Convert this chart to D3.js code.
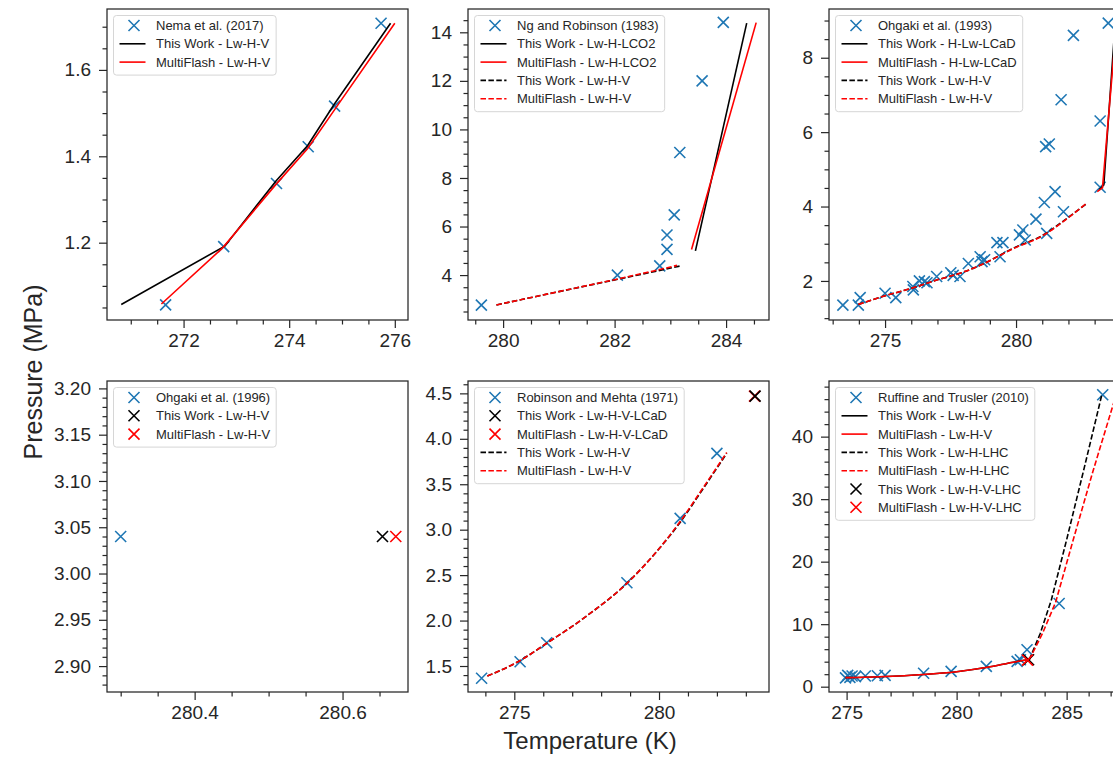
<!DOCTYPE html>
<html>
<head>
<meta charset="utf-8">
<script src="https://cdn.jsdelivr.net/npm/d3@7"></script>
<style>
  body { margin: 0; background: #fff; }
  text { font-family: "Liberation Sans", Arial, sans-serif; fill: #262626; }
</style>
</head>
<body>
<svg id="chart" width="1113" height="757"></svg>
<script>
// ---- data (T in K, P in MPa) ----

// Nema et al. (2017)
const nemaExp = [[271.66, 1.056], [272.76, 1.191], [273.76, 1.337], [274.36, 1.422], [274.86, 1.516], [275.74, 1.708]];
const nemaThisV = [[270.82, 1.057], [272.78, 1.192], [273.75, 1.343], [274.35, 1.425], [274.85, 1.52], [275.92, 1.708]];
const nemaMfV = [[271.58, 1.058], [272.74, 1.188], [273.75, 1.335], [274.35, 1.418], [274.9, 1.515], [276.0, 1.708]];

// Ng and Robinson (1983)
const ngExp = [[279.61, 2.76], [282.05, 4.0], [282.81, 4.38], [282.94, 5.06], [282.94, 5.65], [283.07, 6.48], [283.17, 9.05], [283.57, 12.0], [283.95, 14.41]];
const ngThisLco2 = [[283.45, 5.0], [284.37, 14.38]];
const ngMfLco2 = [[283.38, 5.05], [284.54, 14.4]];
const ngThisV = [[279.88, 2.77], [281.0, 3.32], [282.0, 3.8], [282.7, 4.14], [283.19, 4.38]];
const ngMfV = [[279.88, 2.77], [281.0, 3.32], [282.0, 3.81], [282.7, 4.17], [283.12, 4.4]];

// Ohgaki et al. (1993)
const oh93Exp = [[273.39, 1.35], [273.98, 1.35], [274.05, 1.55], [275.0, 1.67], [275.41, 1.55], [276.06, 1.85], [276.08, 1.76],
  [276.31, 2.0], [276.5, 1.98], [276.6, 1.95], [276.97, 2.12], [277.51, 2.22], [277.6, 2.15], [277.86, 2.12], [278.18, 2.47],
  [278.63, 2.65], [278.7, 2.52], [278.8, 2.57], [279.27, 3.03], [279.5, 3.03], [279.39, 2.65], [280.13, 3.24], [280.26, 3.37],
  [280.35, 3.1], [280.76, 3.66], [281.08, 4.11], [281.17, 3.28], [281.49, 4.4], [281.81, 3.86], [281.13, 5.61], [281.27, 5.68],
  [281.72, 6.87], [282.19, 8.6], [283.21, 6.3], [283.21, 4.52], [283.52, 8.93]];
const oh93ThisLcad = [[283.17, 4.45], [283.35, 4.58], [283.78, 8.9]];
const oh93MfLcad = [[283.1, 4.4], [283.3, 4.5], [283.83, 8.9]];
const oh93ThisV = [[273.98, 1.37], [275.0, 1.6], [276.0, 1.8], [277.0, 2.03], [278.0, 2.24], [278.63, 2.42], [279.9, 2.88], [281.05, 3.24], [281.94, 3.68], [282.7, 4.08]];
const oh93MfV = [[273.98, 1.37], [275.0, 1.6], [276.0, 1.8], [277.0, 2.03], [278.0, 2.24], [278.63, 2.42], [279.9, 2.87], [281.05, 3.23], [281.94, 3.67], [282.68, 4.08]];

// Ohgaki et al. (1996)
const oh96Exp = [[280.30, 3.04]];
const oh96ThisV = [[280.654, 3.04]];
const oh96MfV = [[280.672, 3.04]];

// Robinson and Mehta (1971)
const rmExp = [[273.87, 1.365], [275.2, 1.547], [276.12, 1.756], [278.89, 2.416], [280.73, 3.125], [282.0, 3.84]];
const rmThisLcad = [[283.32, 4.47]];
const rmMfLcad = [[283.30, 4.47]];
const rmThisV = [[274.07, 1.39], [275.2, 1.56], [276.12, 1.75], [277.5, 2.05], [278.89, 2.41], [280.0, 2.79], [280.73, 3.08], [281.5, 3.44], [282.34, 3.84]];
const rmMfV = [[274.07, 1.39], [275.2, 1.56], [276.12, 1.75], [277.5, 2.05], [278.89, 2.41], [280.0, 2.79], [280.73, 3.09], [281.5, 3.45], [282.34, 3.85]];

// Ruffine and Trusler (2010)
const rtExp = [[274.95, 1.4], [275.05, 1.8], [275.15, 1.5], [275.25, 1.7], [275.4, 1.6], [275.85, 1.7], [276.4, 1.75], [276.75, 1.8],
  [278.5, 2.15], [279.75, 2.45], [281.35, 3.25], [282.75, 4.05], [282.9, 4.3], [283.2, 5.9], [284.66, 13.3], [286.64, 46.7]];
const rtThisV = [[274.95, 1.45], [276.5, 1.6], [278.5, 1.95], [280.0, 2.4], [281.4, 3.1], [282.7, 4.0], [283.25, 4.3]];
const rtMfV = [[274.95, 1.45], [276.5, 1.6], [278.5, 1.95], [280.0, 2.4], [281.4, 3.1], [282.7, 4.0], [283.25, 4.3]];
const rtThisLhc = [[283.3, 4.3], [283.8, 8.5], [284.3, 13.8], [285.0, 23.5], [285.8, 35.0], [286.6, 46.7]];
const rtMfLhc = [[283.3, 4.3], [283.9, 8.5], [284.5, 13.5], [285.3, 23.5], [286.2, 34.5], [287.26, 46.8]];
const rtThisPt = [[283.27, 4.3]];
const rtMfPt = [[283.22, 4.25]];

// ---- layout ----
const blue = "#1f77b4", black = "#000000", red = "#ff0000";
const colX = [107, 468, 829], rowY = [9, 381];
const pw = 301, ph = 311;

const panels = [
  { col: 0, row: 0, xDomain: [270.55, 276.25], yDomain: [1.021, 1.741], xMajor: 2, xMinor: 0.5, yMajor: 0.2, yMinor: 0.05, xFmt: "d", yFmt: ".1f",
    series: [
      { data: nemaExp, kind: "x", color: blue, label: "Nema et al. (2017)" },
      { data: nemaThisV, kind: "line", color: black, label: "This Work - Lw-H-V" },
      { data: nemaMfV, kind: "line", color: red, label: "MultiFlash - Lw-H-V" }
    ] },
  { col: 1, row: 0, xDomain: [279.37, 284.77], yDomain: [2.15, 14.96], xMajor: 2, xMinor: 0.5, yMajor: 2, yMinor: 0.5, xFmt: "d", yFmt: "d",
    series: [
      { data: ngExp, kind: "x", color: blue, label: "Ng and Robinson (1983)" },
      { data: ngThisLco2, kind: "line", color: black, label: "This Work - Lw-H-LCO2" },
      { data: ngMfLco2, kind: "line", color: red, label: "MultiFlash - Lw-H-LCO2" },
      { data: ngThisV, kind: "line", color: black, dash: true, label: "This Work - Lw-H-V" },
      { data: ngMfV, kind: "line", color: red, dash: true, label: "MultiFlash - Lw-H-V" }
    ] },
  { col: 2, row: 0, xDomain: [272.86, 284.35], yDomain: [0.95, 9.31], xMajor: 5, xMinor: 1, yMajor: 2, yMinor: 0.5, xFmt: "d", yFmt: "d",
    series: [
      { data: oh93Exp, kind: "x", color: blue, label: "Ohgaki et al. (1993)" },
      { data: oh93ThisLcad, kind: "line", color: black, label: "This Work - H-Lw-LCaD" },
      { data: oh93MfLcad, kind: "line", color: red, label: "MultiFlash - H-Lw-LCaD" },
      { data: oh93ThisV, kind: "line", color: black, dash: true, smooth: true, label: "This Work - Lw-H-V" },
      { data: oh93MfV, kind: "line", color: red, dash: true, smooth: true, label: "MultiFlash - Lw-H-V" }
    ] },
  { col: 0, row: 1, xDomain: [280.2815, 280.6885], yDomain: [2.872, 3.208], xMajor: 0.2, xMinor: 0.05, yMajor: 0.05, yMinor: 0.01, xFmt: ".1f", yFmt: ".2f",
    series: [
      { data: oh96Exp, kind: "x", color: blue, label: "Ohgaki et al. (1996)" },
      { data: oh96ThisV, kind: "x", color: black, label: "This Work - Lw-H-V" },
      { data: oh96MfV, kind: "x", color: red, label: "MultiFlash - Lw-H-V" }
    ] },
  { col: 1, row: 1, xDomain: [273.40, 283.80], yDomain: [1.214, 4.636], xMajor: 5, xMinor: 1, yMajor: 0.5, yMinor: 0.1, xFmt: "d", yFmt: ".1f",
    series: [
      { data: rmExp, kind: "x", color: blue, label: "Robinson and Mehta (1971)" },
      { data: rmMfLcad, kind: "x", color: red, label: "MultiFlash - Lw-H-V-LCaD", order: 2 },
      { data: rmThisLcad, kind: "x", color: black, label: "This Work - Lw-H-V-LCaD", order: 1 },
      { data: rmThisV, kind: "line", color: black, dash: true, smooth: true, label: "This Work - Lw-H-V" },
      { data: rmMfV, kind: "line", color: red, dash: true, smooth: true, label: "MultiFlash - Lw-H-V" }
    ] },
  { col: 2, row: 1, xDomain: [274.2, 287.88], yDomain: [-0.85, 48.9], xMajor: 5, xMinor: 1, yMajor: 10, yMinor: 2, xFmt: "d", yFmt: "d",
    series: [
      { data: rtExp, kind: "x", color: blue, label: "Ruffine and Trusler (2010)" },
      { data: rtThisV, kind: "line", color: black, smooth: true, label: "This Work - Lw-H-V" },
      { data: rtMfV, kind: "line", color: red, smooth: true, label: "MultiFlash - Lw-H-V" },
      { data: rtThisLhc, kind: "line", color: black, dash: true, label: "This Work - Lw-H-LHC" },
      { data: rtMfLhc, kind: "line", color: red, dash: true, label: "MultiFlash - Lw-H-LHC" },
      { data: rtThisPt, kind: "x", color: black, label: "This Work - Lw-H-V-LHC" },
      { data: rtMfPt, kind: "x", color: red, label: "MultiFlash - Lw-H-V-LHC" }
    ] }
];

const svg = d3.select("#chart");
svg.append("rect").attr("width", 1113).attr("height", 757).attr("fill", "#fff");

const xPath = "M-5.5,-5.5L5.5,5.5M-5.5,5.5L5.5,-5.5";

function ticks(domain, step) {
  const lo = Math.ceil(domain[0] / step - 1e-9), hi = Math.floor(domain[1] / step + 1e-9);
  return d3.range(lo, hi + 1).map(k => +(k * step).toFixed(6));
}
function minorTicks(domain, step, major) {
  return ticks(domain, step).filter(v => Math.abs(v / major - Math.round(v / major)) > 1e-6);
}
function styleAxis(g) {
  g.select(".domain").remove();
  g.selectAll(".tick line").attr("stroke", "#262626").attr("stroke-width", 1.2);
  g.selectAll(".tick text").attr("font-size", "19px").attr("fill", "#262626");
}

panels.forEach((p, pi) => {
  const g = svg.append("g").attr("transform", `translate(${colX[p.col]},${rowY[p.row]})`);
  const x = d3.scaleLinear().domain(p.xDomain).range([0, pw]);
  const y = d3.scaleLinear().domain(p.yDomain).range([ph, 0]);

  g.append("clipPath").attr("id", "clip" + pi)
    .append("rect").attr("width", pw).attr("height", ph);

  // axes: minor then major ticks
  g.append("g").attr("transform", `translate(0,${ph})`)
    .call(d3.axisBottom(x).tickValues(minorTicks(p.xDomain, p.xMinor, p.xMajor)).tickSize(4.5).tickFormat(""))
    .call(styleAxis);
  g.append("g").attr("transform", `translate(0,${ph})`)
    .call(d3.axisBottom(x).tickValues(ticks(p.xDomain, p.xMajor)).tickSize(8).tickPadding(6).tickFormat(d3.format(p.xFmt)))
    .call(styleAxis);
  g.append("g")
    .call(d3.axisLeft(y).tickValues(minorTicks(p.yDomain, p.yMinor, p.yMajor)).tickSize(4.5).tickFormat(""))
    .call(styleAxis);
  g.append("g")
    .call(d3.axisLeft(y).tickValues(ticks(p.yDomain, p.yMajor)).tickSize(8).tickPadding(8).tickFormat(d3.format(p.yFmt)))
    .call(styleAxis);

  const plot = g.append("g").attr("clip-path", `url(#clip${pi})`);

  p.series.forEach(s => {
    if (s.kind === "line") {
      const line = d3.line().x(d => x(d[0])).y(d => y(d[1]))
        .curve(s.smooth ? d3.curveMonotoneX : d3.curveLinear);
      plot.append("path").datum(s.data)
        .attr("d", line)
        .attr("fill", "none")
        .attr("stroke", s.color)
        .attr("stroke-width", 1.6)
        .attr("stroke-dasharray", s.dash ? "5.5,2.4" : null);
    } else {
      plot.append("g").selectAll("path").data(s.data).join("path")
        .attr("transform", d => `translate(${x(d[0])},${y(d[1])})`)
        .attr("d", xPath)
        .attr("stroke", s.color)
        .attr("stroke-width", 1.6)
        .attr("fill", "none");
    }
  });

  // frame
  g.append("rect").attr("width", pw).attr("height", ph)
    .attr("fill", "none").attr("stroke", "#262626").attr("stroke-width", 1.25);

  // legend: drawing order can differ from legend order
  const legItems = p.series.slice().sort((a, b) => {
    const oa = a.order !== undefined ? a.order : p.series.indexOf(a);
    const ob = b.order !== undefined ? b.order : p.series.indexOf(b);
    return oa - ob;
  });
  const leg = g.append("g").attr("transform", "translate(6.5,6.5)");
  const box = leg.append("rect");
  let maxW = 0;
  legItems.forEach((s, i) => {
    const cy = 10 + i * 18.3;
    if (s.kind === "line") {
      leg.append("line").attr("x1", 6).attr("x2", 32).attr("y1", cy).attr("y2", cy)
        .attr("stroke", s.color).attr("stroke-width", 1.6)
        .attr("stroke-dasharray", s.dash ? "5.5,2.4" : null);
    } else {
      leg.append("path").attr("transform", `translate(20.5,${cy})`).attr("d", xPath)
        .attr("stroke", s.color).attr("stroke-width", 1.6).attr("fill", "none");
    }
    const t = leg.append("text").attr("x", 42.5).attr("y", cy).attr("dy", "0.35em")
      .attr("font-size", "13px").text(s.label);
    maxW = Math.max(maxW, t.node().getComputedTextLength());
  });
  box.attr("width", 42.5 + maxW + 6).attr("height", 23 + (legItems.length - 1) * 18.3)
    .attr("rx", 3).attr("fill", "#fff").attr("fill-opacity", 0.8)
    .attr("stroke", "#d6d6d6").attr("stroke-width", 1);
});

// shared axis labels
svg.append("text")
  .attr("transform", "translate(42,372) rotate(-90)")
  .attr("text-anchor", "middle")
  .attr("font-size", "25px")
  .text("Pressure (MPa)");
svg.append("text")
  .attr("x", 590).attr("y", 749)
  .attr("text-anchor", "middle")
  .attr("font-size", "24px")
  .text("Temperature (K)");
</script>
</body>
</html>
